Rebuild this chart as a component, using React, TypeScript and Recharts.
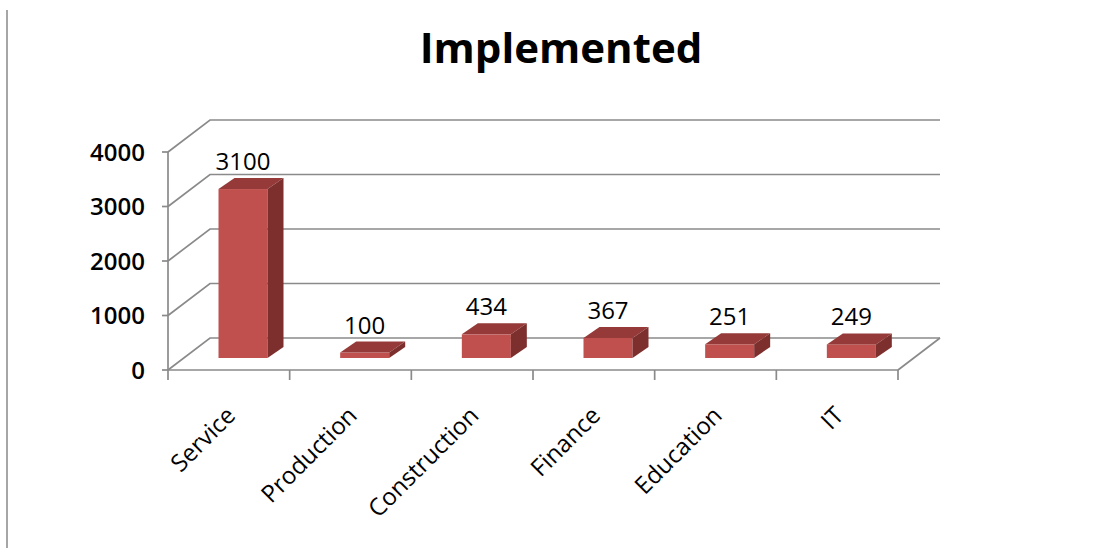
import React from 'react'
import { BarChart, Bar, XAxis, YAxis, CartesianGrid } from 'recharts'

const categories = ['Service', 'Production', 'Construction', 'Finance', 'Education', 'IT']
const implemented = [3100, 100, 434, 367, 251, 249]
const yTicks = [0, 1000, 2000, 3000, 4000]

const data = categories.map((name, i) => ({ name, value: implemented[i] }))

// layout
const W = 1115
const H = 548
const MARGIN = { top: 152, right: 217, bottom: 78, left: 20 }
const X_AXIS_H = 100
const PLOT_W = W - MARGIN.left - MARGIN.right - 148
const PLOT_BOTTOM = H - MARGIN.bottom - X_AXIS_H
const BAND = PLOT_W / categories.length

// 3d look: back wall offset, bar front plane offset, bar depth
const WALL_DX = 42
const WALL_DY = -32
const SHIFT_X = 14
const SHIFT_Y = -12
const DEPTH_X = 16
const DEPTH_Y = -11

const GRID = '#8a8a8a'
const FONT = '"Open Sans", "Liberation Sans", sans-serif'

const GridLine = (props: any) => {
  const { x1, y1, x2 } = props
  const bx = x1 + WALL_DX
  const by = y1 + WALL_DY
  const isFloor = Math.abs(y1 - PLOT_BOTTOM) < 1
  return (
    <g>
      <path d={`M${x1},${y1}L${bx},${by}L${x2 + WALL_DX},${by}`} fill="none" stroke={GRID} strokeWidth={1.7} />
      {isFloor && (
        <line x1={x2} y1={y1} x2={x2 + WALL_DX} y2={by} stroke={GRID} strokeWidth={1.7} />
      )}
    </g>
  )
}

const CategoryTick = (props: any) => {
  const { x, y, payload, index } = props
  const left = x - BAND / 2
  const right = x + BAND / 2
  const last = index === categories.length - 1
  const ax = x + 8
  const ay = y + 47
  return (
    <g>
      <line x1={left} y1={y} x2={left} y2={y + 10} stroke={GRID} strokeWidth={1.7} />
      {last && <line x1={right} y1={y} x2={right} y2={y + 10} stroke={GRID} strokeWidth={1.7} />}
      <text
        x={ax}
        y={ay}
        textAnchor="end"
        transform={`rotate(-45, ${ax}, ${ay})`}
        fontFamily={FONT}
        fontSize={24}
        fill="#000"
      >
        {payload.value}
      </text>
    </g>
  )
}

const Box3D = (props: any) => {
  const { x, y, width, height, payload } = props
  const fx = x + SHIFT_X
  const fy = y + SHIFT_Y
  const r = fx + width
  const b = fy + height
  return (
    <g>
      <rect x={fx} y={fy} width={width} height={height} fill="#c0504d" />
      <polygon
        points={`${fx},${fy} ${fx + DEPTH_X},${fy + DEPTH_Y} ${r + DEPTH_X},${fy + DEPTH_Y} ${r},${fy}`}
        fill="#953a38"
      />
      <polygon
        points={`${r},${fy} ${r + DEPTH_X},${fy + DEPTH_Y} ${r + DEPTH_X},${b + DEPTH_Y} ${r},${b}`}
        fill="#7d2f2d"
      />
      <text x={fx + width / 2} y={fy - 19} textAnchor="middle" fontFamily={FONT} fontSize={24} fill="#000">
        {payload.value}
      </text>
    </g>
  )
}

export default function App() {
  return (
    <div style={{ position: 'absolute', left: 0, top: 0, width: W, height: H, background: '#fff' }}>
      <div style={{ position: 'absolute', left: 6, top: 10, width: 2, height: H - 10, background: '#a6a6a6' }} />
      <BarChart width={W} height={H} data={data} margin={MARGIN} barCategoryGap="30%">
        <CartesianGrid vertical={false} horizontal={GridLine} />
        <XAxis
          dataKey="name"
          interval={0}
          height={X_AXIS_H}
          axisLine={{ stroke: GRID, strokeWidth: 1.7 }}
          tickLine={false}
          tickSize={0}
          tickMargin={0}
          tick={CategoryTick}
        />
        <YAxis
          domain={[0, 4000]}
          ticks={yTicks}
          width={148}
          axisLine={{ stroke: GRID, strokeWidth: 1.7 }}
          tickLine={{ stroke: GRID, strokeWidth: 1.7 }}
          tickSize={6}
          tickMargin={17}
          tick={{ fontFamily: FONT, fontSize: 24, fontWeight: 600, fill: '#000' }}
        />
        <Bar dataKey="value" shape={Box3D} isAnimationActive={false} />
      </BarChart>
      <svg width={W} height={H} style={{ position: 'absolute', left: 0, top: 0, pointerEvents: 'none' }}>
        <text x={561} y={63} textAnchor="middle" fontFamily={FONT} fontSize={42} fontWeight={700} fill="#000">
          Implemented
        </text>
      </svg>
    </div>
  )
}
